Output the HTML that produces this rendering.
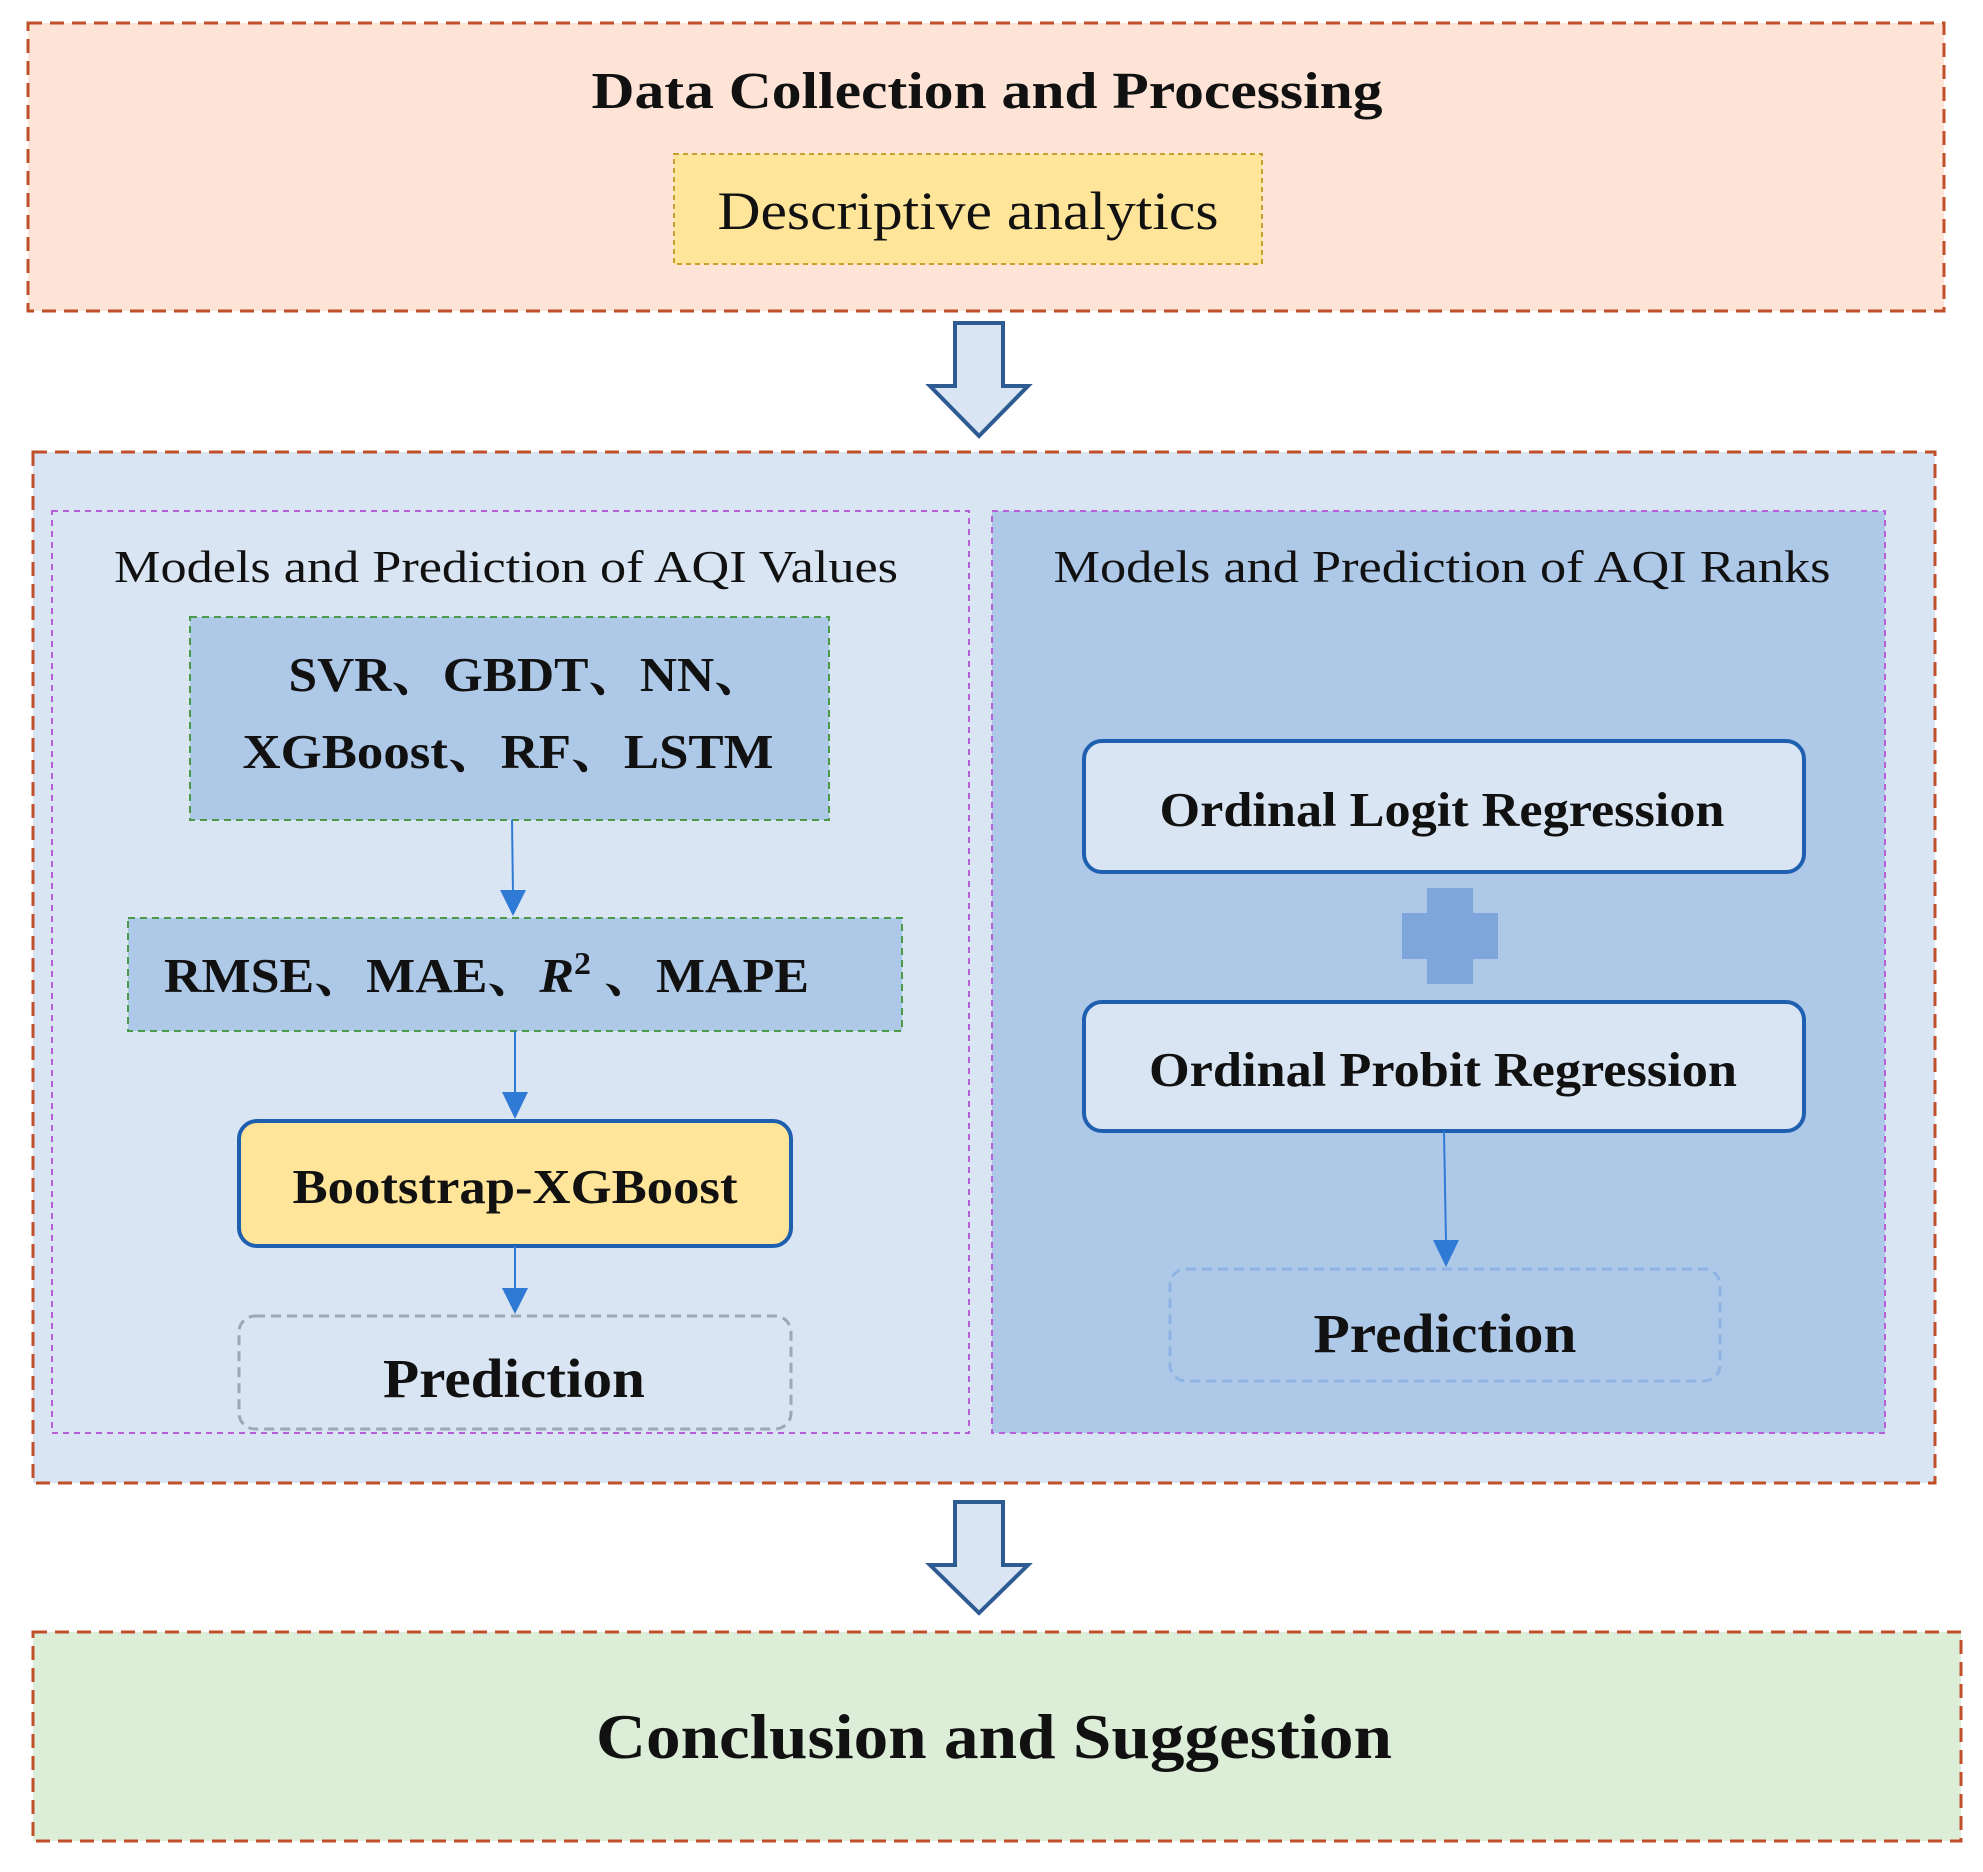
<!DOCTYPE html>
<html><head><meta charset="utf-8"><style>
html,body{margin:0;padding:0;background:#fff;}
svg{display:block;}
text{font-family:"Liberation Serif","Noto Serif CJK SC",serif;}
</style></head><body>
<svg width="1983" height="1872" viewBox="0 0 1983 1872" xmlns="http://www.w3.org/2000/svg">
<rect x="28" y="23" width="1916" height="288" fill="#fde4d6" stroke="#c0502a" stroke-width="3" stroke-dasharray="14,8"/>
<text x="987" y="108" font-size="52" font-weight="bold" text-anchor="middle" fill="#111" textLength="791" lengthAdjust="spacingAndGlyphs">Data Collection and Processing</text>
<rect x="674" y="154" width="588" height="110" fill="#fee59a" stroke="#c8a02a" stroke-width="2" stroke-dasharray="5,4"/>
<text x="968" y="229" font-size="54" text-anchor="middle" fill="#111" textLength="501" lengthAdjust="spacingAndGlyphs">Descriptive analytics</text>
<path d="M955,323 H1003 V386 H1028 L979,436 L930,386 H955 Z" fill="#dae5f3" stroke="#2e5b92" stroke-width="4"/>
<rect x="33" y="452" width="1902" height="1031" fill="#dae5f3" stroke="#c0502a" stroke-width="3" stroke-dasharray="14,8"/>
<rect x="52" y="511" width="917" height="922" fill="#dae5f3" stroke="#b65fd6" stroke-width="2" stroke-dasharray="6,5"/>
<rect x="992" y="511" width="893" height="922" fill="#aec8e8" stroke="#b65fd6" stroke-width="2" stroke-dasharray="6,5"/>
<text x="506" y="582" font-size="46" text-anchor="middle" fill="#111" textLength="784" lengthAdjust="spacingAndGlyphs">Models and Prediction of AQI Values</text>
<text x="1442" y="582" font-size="46" text-anchor="middle" fill="#111" textLength="777" lengthAdjust="spacingAndGlyphs">Models and Prediction of AQI Ranks</text>
<rect x="190" y="617" width="639" height="203" fill="#aec8e8" stroke="#4a9a4a" stroke-width="2" stroke-dasharray="7,5"/>
<text x="527" y="691" font-size="49" font-weight="bold" text-anchor="middle" fill="#111" textLength="477" lengthAdjust="spacingAndGlyphs">SVR、GBDT、NN、</text>
<text x="508" y="768" font-size="49" font-weight="bold" text-anchor="middle" fill="#111" textLength="531" lengthAdjust="spacingAndGlyphs">XGBoost、RF、LSTM</text>
<line x1="512" y1="820" x2="513" y2="893" stroke="#2f7ad4" stroke-width="2"/>
<path d="M500,890 H526 L513,916 Z" fill="#2f7ad4"/>
<rect x="128" y="918" width="774" height="113" fill="#aec8e8" stroke="#4a9a4a" stroke-width="2" stroke-dasharray="7,5"/>
<text x="164" y="992" font-size="49" font-weight="bold" fill="#111" textLength="645" lengthAdjust="spacingAndGlyphs">RMSE、MAE、<tspan font-style="italic">R</tspan><tspan font-size="32" dy="-18">2</tspan><tspan dy="18"> 、MAPE</tspan></text>
<line x1="515" y1="1031" x2="515" y2="1095" stroke="#2f7ad4" stroke-width="2"/>
<path d="M502,1092 H528 L515,1119 Z" fill="#2f7ad4"/>
<rect x="239" y="1121" width="552" height="125" rx="18" fill="#fee59a" stroke="#1f5fb0" stroke-width="4"/>
<text x="515" y="1203" font-size="49" font-weight="bold" text-anchor="middle" fill="#111" textLength="445" lengthAdjust="spacingAndGlyphs">Bootstrap-XGBoost</text>
<line x1="515" y1="1246" x2="515" y2="1290" stroke="#2f7ad4" stroke-width="2"/>
<path d="M502,1288 H528 L515,1314 Z" fill="#2f7ad4"/>
<rect x="239" y="1316" width="552" height="113" rx="16" fill="#dae5f3" stroke="#9aa8b8" stroke-width="3" stroke-dasharray="10,6"/>
<text x="514" y="1397" font-size="55" font-weight="bold" text-anchor="middle" fill="#111" textLength="262" lengthAdjust="spacingAndGlyphs">Prediction</text>
<rect x="1084" y="741" width="720" height="131" rx="18" fill="#dae5f3" stroke="#1f5fb0" stroke-width="4"/>
<text x="1442" y="826" font-size="49" font-weight="bold" text-anchor="middle" fill="#111" textLength="565" lengthAdjust="spacingAndGlyphs">Ordinal Logit Regression</text>
<path d="M1427,888 H1473 V913 H1498 V959 H1473 V984 H1427 V959 H1402 V913 H1427 Z" fill="#7fa6dc"/>
<rect x="1084" y="1002" width="720" height="129" rx="18" fill="#dae5f3" stroke="#1f5fb0" stroke-width="4"/>
<text x="1443" y="1086" font-size="49" font-weight="bold" text-anchor="middle" fill="#111" textLength="588" lengthAdjust="spacingAndGlyphs">Ordinal Probit Regression</text>
<line x1="1444" y1="1131" x2="1446" y2="1242" stroke="#2f7ad4" stroke-width="2"/>
<path d="M1433,1240 H1459 L1446,1267 Z" fill="#2f7ad4"/>
<rect x="1170" y="1269" width="550" height="112" rx="16" fill="#aec8e8" stroke="#8fb4e3" stroke-width="3" stroke-dasharray="10,6"/>
<text x="1445" y="1352" font-size="55" font-weight="bold" text-anchor="middle" fill="#111" textLength="263" lengthAdjust="spacingAndGlyphs">Prediction</text>
<path d="M955,1502 H1003 V1565 H1028 L979,1613 L930,1565 H955 Z" fill="#dae5f3" stroke="#2e5b92" stroke-width="4"/>
<rect x="33" y="1632" width="1928" height="209" fill="#ddeed8" stroke="#c0502a" stroke-width="3" stroke-dasharray="14,8"/>
<text x="994" y="1758" font-size="64" font-weight="bold" text-anchor="middle" fill="#111" textLength="796" lengthAdjust="spacingAndGlyphs">Conclusion and Suggestion</text>
</svg>
</body></html>
